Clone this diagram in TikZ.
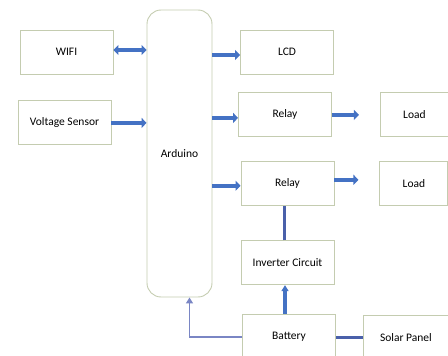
\documentclass[tikz,border=0pt]{standalone}
\usepackage{fontspec}
\setmainfont{Carlito}
\usepackage{tikz}
\usetikzlibrary{arrows.meta,positioning,calc}
\definecolor{boxline}{RGB}{196,204,176}
\definecolor{arrblue}{RGB}{68,114,196}
\definecolor{linkblue}{RGB}{74,96,170}
\definecolor{pwrblue}{RGB}{122,134,196}
\tikzset{
  blk/box/.style={draw=boxline, line width=0.9pt, rectangle, minimum width=93pt, minimum height=44pt, align=center, font=\fontsize{11.5}{13}\selectfont},
  blk/mcu/.style={blk/box, rounded corners=14pt, minimum width=65pt, minimum height=287pt},
  blk/load/.style={blk/box, minimum width=68pt},
  blk/flow/.style={draw=arrblue, line width=4.5pt, -{Triangle[length=5pt, width=10pt]}},
  blk/bidir/.style={blk/flow, {Triangle[length=5pt, width=10pt]}-{Triangle[length=5pt, width=10pt]}},
  blk/link/.style={draw=linkblue, line width=2.6pt},
  blk/power/.style={draw=pwrblue, line width=1.8pt, -{Triangle[length=6pt, width=7pt]}}
}

\begin{document}
\begin{tikzpicture}[x=1pt, y=1pt, node distance=26pt and 45pt]
  \useasboundingbox (0,0) rectangle (448,-356);
  % Inputs and controller
  \node[blk/mcu] (ardu) at (179.5,-153.5) {Arduino};
  \node[blk/box] (wifi) at (66.5,-52) {WIFI};
  \node[blk/box, below=of wifi, xshift=-2pt] (vsens) {Voltage Sensor};

  % Output side
  \node[blk/box] (lcd) at (287,-52) {LCD};
  \node[blk/box, below=18pt of lcd, xshift=-2pt] (rly1) {Relay};
  \node[blk/load, right=48pt of rly1] (load1) {Load};
  \node[blk/box, below=24pt of rly1, xshift=2.5pt] (rly2) {Relay};
  \node[blk/load, right=45pt of rly2] (load2) {Load};

  % Power path
  \node[blk/box, below=34pt of rly2] (inv) {Inverter Circuit};
  \node[blk/box, below=29pt of inv, xshift=1.5pt] (batt) {Battery};
  \node[blk/box, right=27pt of batt, minimum width=85pt, yshift=-1pt] (solar) {Solar Panel};

  \draw[blk/bidir] ([yshift=2pt]wifi.east) -- ([yshift=2pt]wifi.east -| ardu.west);
  \draw[blk/flow] (vsens.east) -- (vsens.east -| ardu.west);
  \draw[blk/flow] ([yshift=-3pt]ardu.east |- lcd.west) -- ([yshift=-3pt]lcd.west);
  \draw[blk/flow] ([yshift=-3pt]ardu.east |- rly1.west) -- ([yshift=-3pt]rly1.west);
  \draw[blk/flow] ([yshift=-2pt]ardu.east |- rly2.west) -- ([yshift=-2pt]rly2.west);
  \draw[blk/flow] (rly1.east) -- ([xshift=-21pt]load1.west);
  \draw[blk/flow] ([yshift=4pt]rly2.east) -- ([xshift=-21pt, yshift=4pt]load2.west);

  \draw[blk/link] ([xshift=-3pt]inv.north) -- ([xshift=-3pt]inv.north |- rly2.south);
  \draw[blk/flow, line width=3.5pt, -{Triangle[length=6pt, width=7pt]}] ([xshift=-4pt]batt.north) -- ([xshift=-4pt]batt.north |- inv.south);
  \draw[blk/link] (solar.west) -- (solar.west -| batt.east);
  \draw[blk/power] (batt.west) -| ([xshift=10pt]ardu.south);
\end{tikzpicture}
\end{document}
